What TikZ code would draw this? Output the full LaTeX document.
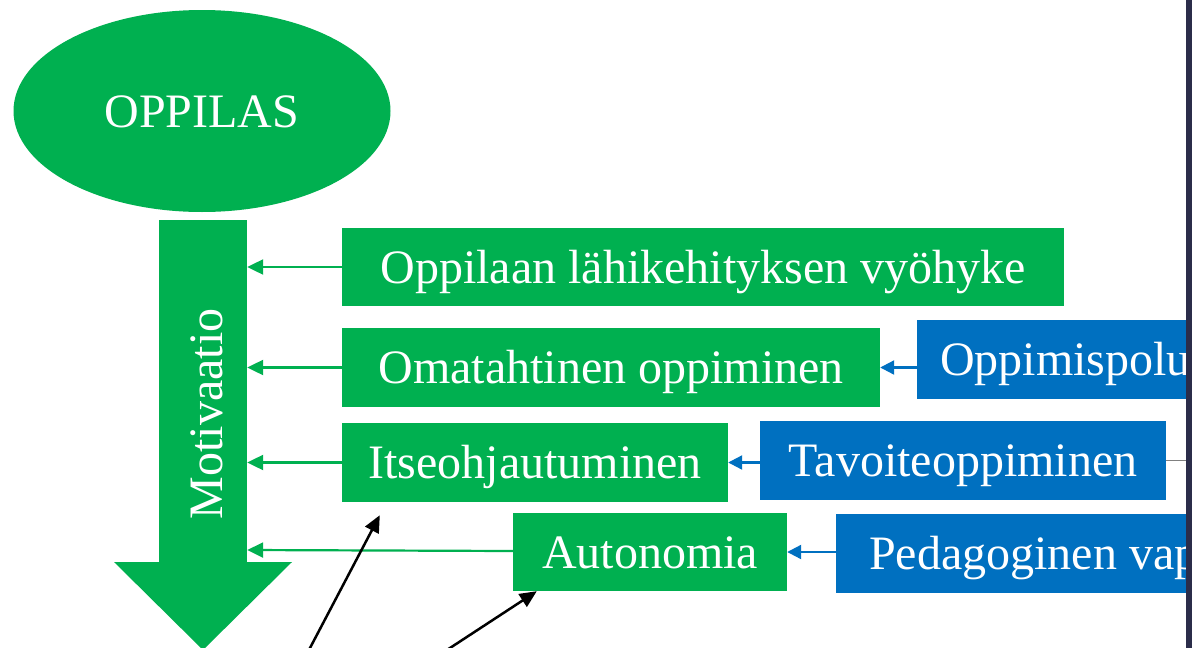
\documentclass[tikz,border=0pt]{standalone}
\usepackage{fontspec}
\setmainfont{Liberation Serif}
\usetikzlibrary{shapes.geometric,arrows.meta,calc}
\definecolor{pgreen}{HTML}{00B050}
\definecolor{pblue}{HTML}{0070C0}
\definecolor{pdark}{HTML}{2B2D4A}
\tikzset{
  bigfont/.style={font=\fontsize{48}{58}\selectfont, text height=42.8pt, text depth=10.4pt},
  box/.style={rectangle, inner sep=0pt, text=white, bigfont},
  gbox/.style={box, fill=pgreen},
  bbox/.style={box, fill=pblue},
  garrow/.style={draw=pgreen, line width=2.2pt, -{Triangle[length=16pt,width=15pt]}},
  barrow/.style={draw=pblue, line width=2.2pt, -{Triangle[length=14pt,width=14pt]}},
  karrow/.style={draw=black, line width=2.5pt, -{Triangle[length=17pt,width=15pt]}},
}
\begin{document}
\begin{tikzpicture}[x=1pt,y=-1pt]
\useasboundingbox (0,0) rectangle (1192,648);
\clip (0,0) rectangle (1192,648);
\fill[white] (0,0) rectangle (1192,648);

% OPPILAS ellipse
\node[ellipse, fill=pgreen, inner sep=0pt, minimum width=377pt, minimum height=202pt,
  text=white, bigfont] (opp) at (202,111) {OPPILAS};

% big arrow
\node[rectangle, fill=pgreen, inner sep=0pt, minimum width=88pt, minimum height=343pt]
  (shaft) at (203,391) {};
\fill[pgreen] (114,562) -- (292,562) -- (203,650) -- cycle;
\node[rotate=90, text=white, inner sep=0pt, bigfont] (mot) at (206,414) {Motivaatio};

% green boxes
\node[gbox, minimum width=722pt, minimum height=78pt] (b1) at (703,267) {Oppilaan lähikehityksen vyöhyke};
\node[gbox, minimum width=538pt, minimum height=79pt] (b2) at (611,367.5) {Omatahtinen oppiminen};
\node[gbox, minimum width=386pt, minimum height=79pt] (b3) at (535,462.5) {Itseohjautuminen};
\node[gbox, minimum width=274pt, minimum height=78pt] (b4) at (650,552) {Autonomia};

% blue boxes
\node[bbox, anchor=west, minimum height=79pt, inner xsep=23pt]
  (p1) at (917,359.5) {\makebox[270pt][l]{Oppimispolu}};
\node[bbox, minimum width=406pt, minimum height=79pt] (p2) at (963,460.5) {Tavoiteoppiminen};
\node[bbox, anchor=west, minimum height=79pt, inner xsep=33pt]
  (p3) at (836,553) {\makebox[340pt][l]{Pedagoginen vap}};

% green connectors
\draw[garrow] (b1.west) -- (b1.west -| shaft.east);
\draw[garrow] (b2.west) -- (b2.west -| shaft.east);
\draw[garrow] (b3.west) -- (b3.west -| shaft.east);
\draw[garrow] ($(b4.west)+(0,-1)$) -- ($(b4.west -| shaft.east)+(0,-2)$);

% blue connectors
\draw[barrow] (b2.east -| p1.west) -- (b2.east);
\draw[barrow] (b3.east -| p2.west) -- (b3.east);
\draw[barrow] (b4.east -| p3.west) -- (b4.east);

% gray line
\coordinate (gend) at (1192,460);
\draw[gray, line width=1pt] (p2.east) -- (p2.east -| gend);

% black arrows
\coordinate (k1s) at (300,667);
\coordinate (k2s) at (424,665);
\draw[karrow] (k1s) -- ($(b3.south west)+(38,13)$);
\draw[karrow] (k2s) -- ($(b4.south west)+(24,0)$);

% dark right edge bar
\fill[pdark] (1186,0) rectangle (1192,648);
\end{tikzpicture}
\end{document}
